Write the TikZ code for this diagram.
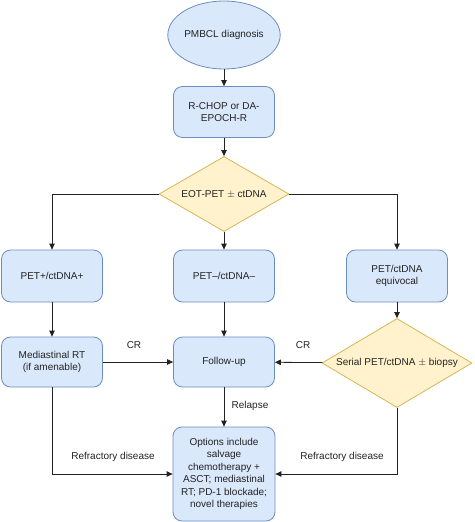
\documentclass[tikz,border=0pt]{standalone}
\usepackage{fontspec}
\setmainfont{Liberation Sans}
\usetikzlibrary{shapes.geometric,arrows.meta,calc}
\definecolor{bfill}{HTML}{DAE8FC}
\definecolor{bline}{HTML}{6C8EBF}
\definecolor{yfill}{HTML}{FFF2CC}
\definecolor{yline}{HTML}{D6B656}
\definecolor{ink}{HTML}{222222}
\tikzset{
  box/.style={draw=bline, fill=bfill, rounded corners=9pt, align=center, minimum width=101pt, minimum height=51pt, inner sep=2pt, font=\fontsize{10}{12.5}\selectfont, text=ink, line width=0.8pt},
  oval/.style={draw=bline, fill=bfill, ellipse, minimum width=104pt, minimum height=68pt, inner sep=0pt, font=\fontsize{10}{12.5}\selectfont, text=ink, line width=0.8pt},
  dia/.style={draw=yline, fill=yfill, diamond, inner sep=0pt, font=\fontsize{10}{12.5}\selectfont, text=ink, line width=0.8pt},
  conn/.style={draw=ink, line width=0.8pt, -{Triangle[length=6pt,width=5.5pt]}},
  lbl/.style={font=\fontsize{10}{12.5}\selectfont, text=ink},
}
\begin{document}
\begin{tikzpicture}[x=1pt,y=-1pt]
\useasboundingbox (0,0) rectangle (474,522);
\node[oval] (diag) at (224,35) {PMBCL diagnosis};
\node[box, minimum height=51pt] (chop) at (224,112) {R-CHOP or DA-\\EPOCH-R};
\node[dia, minimum width=130pt, minimum height=75pt, aspect=1.73] (eot) at (224,194) {EOT-PET $\pm$ ctDNA};
\node[box, minimum height=52pt] (pos) at (52,276) {PET+/ctDNA+};
\node[box, minimum height=52pt] (neg) at (224,276) {PET–/ctDNA–};
\node[box, minimum height=52pt] (equ) at (397,276) {PET/ctDNA\\equivocal};
\node[box, minimum height=50pt] (rt) at (52,362) {Mediastinal RT\\(if amenable)};
\node[box, minimum height=50pt] (fu) at (224,362) {Follow-up};
\node[dia, minimum width=150pt, minimum height=89pt, aspect=1.69] (ser) at (397,363) {Serial PET/ctDNA $\pm$ biopsy};
\node[box, minimum width=102pt, minimum height=94pt] (opt) at (224,474) {Options include\\salvage\\chemotherapy +\\ASCT; mediastinal\\RT; PD-1 blockade;\\novel therapies};

\draw[conn] (diag) -- (chop);
\draw[conn] (chop) -- (eot);
\draw[conn] (eot.west) -| (pos.north);
\draw[conn] (eot) -- (neg);
\draw[conn] (eot.east) -| (equ.north);
\draw[conn] (pos) -- (rt);
\draw[conn] (neg) -- (fu);
\draw[conn] (equ) -- (ser);
\draw[conn] (rt) -- (fu);
\draw[conn] (ser) -- (fu);
\draw[conn] (fu) -- (opt);
\draw[conn] (rt.south) |- (opt.west);
\draw[conn] (ser.south) |- (opt.east);

\node[lbl] (cr1) at (134,345) {CR};
\node[lbl] (cr2) at (303,345) {CR};
\node[lbl] (rel) at (250,406) {Relapse};
\node[lbl] (ref1) at (113,457) {Refractory disease};
\node[lbl] (ref2) at (342,457) {Refractory disease};
\end{tikzpicture}
\end{document}
